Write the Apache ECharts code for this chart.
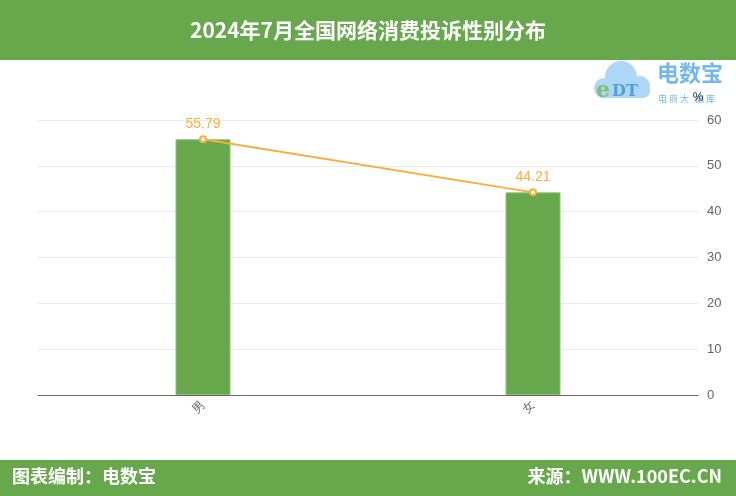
<!DOCTYPE html>
<html>
<head>
<meta charset="utf-8">
<script src="https://cdn.jsdelivr.net/npm/echarts@6/dist/echarts.min.js"></script>
<style>
  html, body { margin: 0; padding: 0; background: #fff; }
  #chart { width: 736px; height: 496px; }
</style>
</head>
<body>
<div id="chart"></div>
<script>
// 性别分布（%）
const categories = ['男', '女'];
const shareValues = [55.79, 44.21];
const yTicks = { min: 0, max: 60, interval: 10 };

const green = '#68a84d';
const orange = '#f9ae3c';
const cloud = '#aed6f6';

const chart = echarts.init(document.getElementById('chart'));
chart.setOption({
  animation: false,
  backgroundColor: '#fff',
  graphic: [
    // 标题栏
    { type: 'rect', left: 0, top: 0, shape: { width: 736, height: 60 }, style: { fill: green } },
    { type: 'text', left: 'center', top: 20, style: { text: '2024年7月全国网络消费投诉性别分布', fill: '#fff', font: 'bold 21px "Noto Sans CJK SC", sans-serif' } },
    // 底栏
    { type: 'rect', left: 0, top: 460, shape: { width: 736, height: 36 }, style: { fill: green } },
    { type: 'text', left: 12, top: 467, style: { text: '图表编制：电数宝', fill: '#fff', font: 'bold 18px "Noto Sans CJK SC", sans-serif' } },
    { type: 'text', right: 14, top: 467, style: { text: '来源：WWW.100EC.CN', fill: '#fff', font: 'bold 18px "Noto Sans CJK SC", sans-serif' } },
    // 标志：云朵
    { type: 'circle', shape: { cx: 621, cy: 77, r: 16 }, style: { fill: cloud } },
    { type: 'circle', shape: { cx: 604, cy: 88, r: 10 }, style: { fill: cloud } },
    { type: 'circle', shape: { cx: 640, cy: 86, r: 10 }, style: { fill: cloud } },
    { type: 'rect', shape: { x: 596, y: 84, width: 54, height: 14, r: 7 }, style: { fill: cloud } },
    { type: 'text', left: 596, top: 80, style: { text: 'e', fill: '#7cc06a', font: 'bold 22px "DejaVu Serif", serif' } },
    { type: 'text', left: 612, top: 84, style: { text: 'DT', fill: '#4d9fe3', font: 'bold 16px "DejaVu Serif", serif' } },
    { type: 'text', left: 657, top: 62, style: { text: '电数宝', fill: '#74b6ee', font: 'bold 22px "Noto Sans CJK SC", sans-serif' } },
    { type: 'text', left: 658, top: 94, style: { text: '电 商 大   据 库', fill: '#74b6ee', font: '9px "Noto Sans CJK SC", sans-serif' } }
  ],
  grid: { left: 38, right: 38, top: 120, bottom: 101 },
  xAxis: {
    type: 'category',
    data: categories,
    axisLine: { lineStyle: { color: '#666' } },
    axisTick: { show: false },
    axisLabel: { rotate: 45, color: '#666', fontSize: 12, margin: 8 }
  },
  yAxis: {
    type: 'value',
    position: 'right',
    name: '%',
    nameGap: 16,
    nameTextStyle: { color: '#333', fontSize: 12, align: 'center' },
    min: yTicks.min,
    max: yTicks.max,
    interval: yTicks.interval,
    axisLine: { show: false },
    axisTick: { show: false },
    axisLabel: { color: '#666', fontSize: 13, margin: 9 },
    splitLine: { lineStyle: { color: '#ebebeb' } }
  },
  series: [
    {
      type: 'bar',
      data: shareValues,
      barWidth: 55,
      itemStyle: { color: green, borderColor: '#8cc274', borderWidth: 1 }
    },
    {
      type: 'line',
      data: shareValues,
      symbol: 'circle',
      symbolSize: 6,
      lineStyle: { color: orange, width: 2 },
      itemStyle: { color: '#fff', borderColor: orange, borderWidth: 2 },
      label: { show: true, position: 'top', color: orange, fontSize: 14, distance: 4 }
    }
  ]
});
</script>
</body>
</html>
